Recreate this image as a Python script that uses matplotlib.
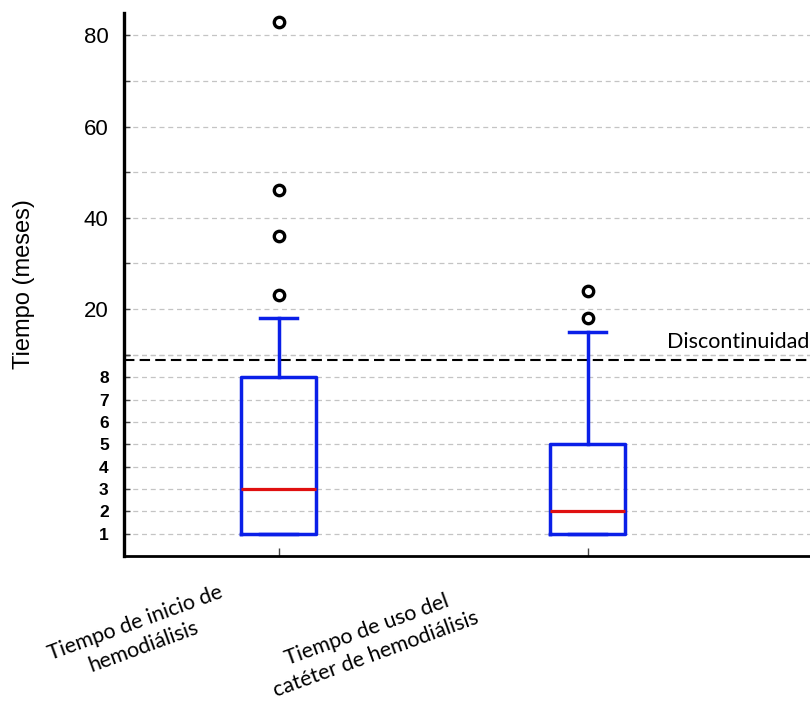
"""
plot.py
tiempos de hemodiálisis

boxplot con eje y discontinuo (1-8 en meses, luego 10-85)
"""

import numpy as np
import matplotlib
matplotlib.use("Agg")
import matplotlib.pyplot as plt

# Datos
categorias = ["Tiempo de inicio de\nhemodiálisis", "Tiempo de uso del\ncatéter de hemodiálisis"]
q1 = [1, 1]
medianas = [3, 2]
q3 = [8, 5]
bigote_inf = [1, 1]
bigote_sup = [18, 15]
atipicos = [[23, 36, 46, 83], [18, 24]]

ticks_bajos = [1, 2, 3, 4, 5, 6, 7, 8]
ticks_altos = [20, 40, 60, 80]
grid_extra = [9, 10, 30, 50, 70]
corte = 8.78	# donde va la linea de discontinuidad

# Escala rota: 0-9 normal, 10-85 comprimido
k = 4.55 / 22.29

def fwd(v):
	v = np.asarray(v, dtype=float)
	return np.where(v <= 9, v, np.where(v <= 10, 9 + (v - 9) * 0.02, 9.02 + (v - 10) * k))

def inv(u):
	u = np.asarray(u, dtype=float)
	return np.where(u <= 9, u, np.where(u <= 9.02, 9 + (u - 9) / 0.02, 10 + (u - 9.02) / k))

plt.rcParams["font.family"] = ["Liberation Sans", "DejaVu Sans"]

fig = plt.figure(figsize=(8.1, 7.05), dpi=100)
ax = fig.add_axes([124 / 810, 149 / 705, 686 / 810, 543.3 / 705])
ax.set_yscale("function", functions=(fwd, inv))

stats = []
for i in range(len(categorias)):
	stats.append(dict(med=medianas[i], q1=q1[i], q3=q3[i], whislo=bigote_inf[i], whishi=bigote_sup[i], fliers=atipicos[i]))

ax.bxp(stats, positions=[1, 2], widths=0.24, showfliers=True, showcaps=True,
	boxprops=dict(color="#0a1fe8", linewidth=2.5),
	whiskerprops=dict(color="#0a1fe8", linewidth=2.5),
	capprops=dict(color="#0a1fe8", linewidth=2.5),
	medianprops=dict(color="#e01010", linewidth=2.3),
	flierprops=dict(marker="o", markerfacecolor="none", markeredgecolor="black", markersize=7.5, markeredgewidth=2.4),
	zorder=3)

ax.set_xlim(0.5, 0.5 + 686 / 309)
ax.set_ylim(0, 85)

# Ticks y grid
ax.set_yticks(ticks_bajos + ticks_altos)
ax.set_yticks(grid_extra, minor=True)
ax.set_yticklabels([str(t) for t in ticks_bajos + ticks_altos])
for lab, t in zip(ax.get_yticklabels(), ticks_bajos + ticks_altos):
	if t < 10:
		lab.set_fontsize(12.5)
		lab.set_fontweight("bold")
	else:
		lab.set_fontsize(16)
ax.tick_params(axis="y", which="both", direction="in", length=4, width=1, color="#444444", pad=11)
ax.tick_params(axis="y", which="minor", labelleft=False)
ax.grid(axis="y", which="both", linestyle=(0, (4, 3)), color="#c4c4c4", linewidth=0.9, zorder=0)

ax.set_xticks([1, 2])
ax.set_xticklabels(["", ""])
ax.tick_params(axis="x", direction="in", length=6, width=1, color="#444444")

# etiquetas del eje x, giradas
offsets = [(-139, -79), (-216, -86)]
for i, cat in enumerate(categorias):
	ax.annotate(cat, xy=(i + 1, 0), xycoords=("data", "axes fraction"), xytext=offsets[i], textcoords="offset pixels",
		ha="center", va="center", rotation=20, fontsize=15.5, family=["Lato", "DejaVu Sans"], multialignment="center",
		linespacing=1.35, annotation_clip=False)

# discontinuidad
ax.axhline(corte, color="black", linestyle=(0, (5, 2.5)), linewidth=1.5, zorder=2)
ax.annotate("Discontinuidad", xy=(0.5 + 543 / 309, corte), xytext=(0, 12), textcoords="offset pixels",
	ha="left", va="baseline", fontsize=15.5, family=["Lato", "DejaVu Sans"])

ax.set_ylabel("Tiempo (meses)", fontsize=17)
ax.yaxis.set_label_coords(-0.13, 0.5)

for s in ["top", "right"]:
	ax.spines[s].set_visible(False)
ax.spines["left"].set_linewidth(2.4)
ax.spines["bottom"].set_linewidth(2)

plt.savefig("out.png", dpi=100)
